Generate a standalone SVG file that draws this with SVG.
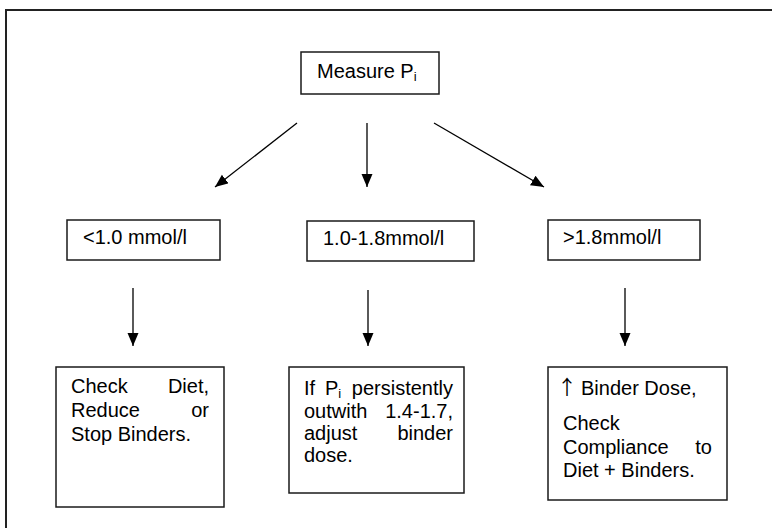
<svg xmlns="http://www.w3.org/2000/svg" width="772" height="528" viewBox="0 0 772 528">
<defs>
<style>
.box{fill:#fff;stroke:#1a1a1a;stroke-width:1.5}
.t{font-family:"Liberation Sans",Arial,sans-serif;font-size:20px;fill:#000}
.e{text-anchor:end}
.c{stroke:#000;stroke-width:1.3;fill:none}
</style>
<marker id="ah" markerUnits="userSpaceOnUse" markerWidth="14" markerHeight="12" refX="13" refY="5.5" orient="auto" viewBox="0 0 14 12">
<path d="M0,0 L13,5.5 L0,11 z" fill="#000"/>
</marker>
</defs>
<rect x="6" y="10" width="800" height="560" fill="none" stroke="#222" stroke-width="2"/>
<g id="measure">
<rect class="box" x="301" y="52" width="138" height="42"/>
<text class="t" x="317" y="78">Measure P<tspan font-size="13" dy="3">i</tspan></text>
</g>
<g id="low">
<rect class="box" x="67" y="220" width="153" height="40"/>
<text class="t" x="83" y="244">&lt;1.0 mmol/l</text>
</g>
<g id="mid">
<rect class="box" x="307" y="221" width="167" height="40"/>
<text class="t" x="323" y="245">1.0-1.8mmol/l</text>
</g>
<g id="high">
<rect class="box" x="548" y="220" width="152" height="40"/>
<text class="t" x="563" y="244">&gt;1.8mmol/l</text>
</g>
<g id="low-action">
<rect class="box" x="56" y="367" width="168" height="140"/>
<text class="t" x="71" y="393">Check</text><text class="t e" x="209" y="393">Diet,</text>
<text class="t" x="71" y="417">Reduce</text><text class="t e" x="209" y="417">or</text>
<text class="t" x="71" y="441">Stop Binders.</text>
</g>
<g id="mid-action">
<rect class="box" x="289" y="367" width="175" height="126"/>
<text class="t" x="304" y="395">If</text><text class="t" x="325" y="395">P<tspan font-size="13" dy="3">i</tspan></text><text class="t e" x="453" y="395">persistently</text>
<text class="t" x="304" y="418">outwith</text><text class="t e" x="453" y="418">1.4-1.7,</text>
<text class="t" x="304" y="440">adjust</text><text class="t e" x="453" y="440">binder</text>
<text class="t" x="304" y="462">dose.</text>
</g>
<g id="high-action">
<rect class="box" x="548" y="367" width="179" height="133"/>
<text class="t" x="567" y="395" text-anchor="middle" font-family="'Noto Sans CJK SC','DejaVu Sans',sans-serif" style="font-family:'Noto Sans CJK SC','DejaVu Sans',sans-serif">↑</text>
<text class="t" x="581" y="395">Binder Dose,</text>
<text class="t" x="563" y="430">Check</text>
<text class="t" x="563" y="454">Compliance</text><text class="t e" x="712" y="454">to</text>
<text class="t" x="563" y="477">Diet + Binders.</text>
</g>
<g id="connectors">
<line class="c" x1="297" y1="123" x2="215" y2="187" marker-end="url(#ah)"/>
<line class="c" x1="367" y1="123" x2="367" y2="187" marker-end="url(#ah)"/>
<line class="c" x1="434" y1="123" x2="544" y2="187" marker-end="url(#ah)"/>
<line class="c" x1="133" y1="288" x2="133" y2="346" marker-end="url(#ah)"/>
<line class="c" x1="368" y1="290" x2="368" y2="346" marker-end="url(#ah)"/>
<line class="c" x1="625" y1="288" x2="625" y2="346" marker-end="url(#ah)"/>
</g>
</svg>
